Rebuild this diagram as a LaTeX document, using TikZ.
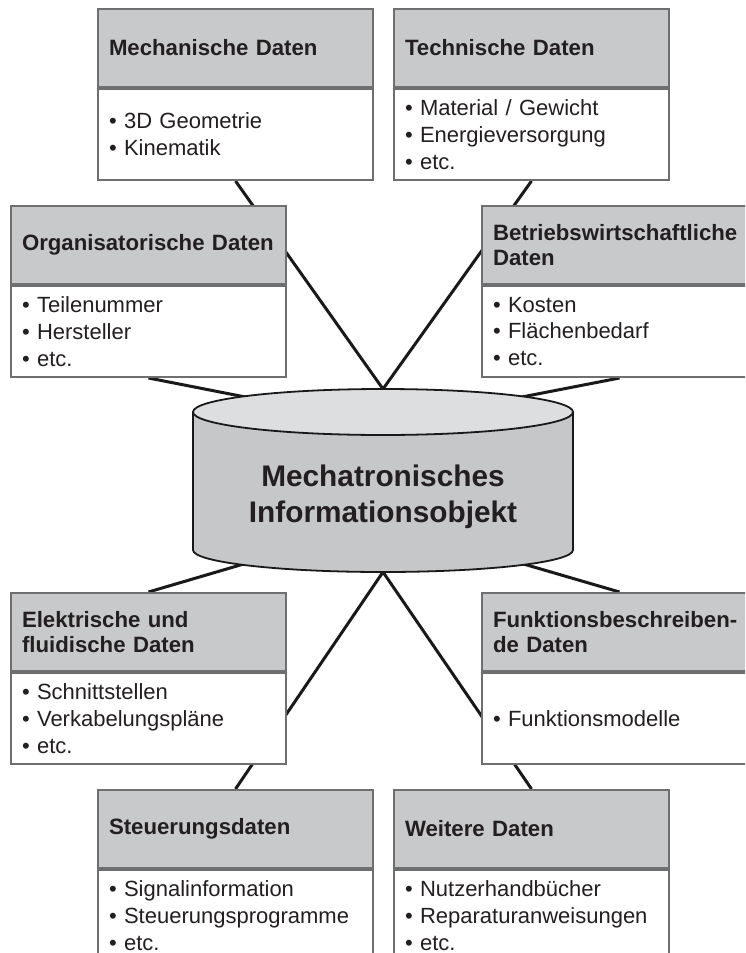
\documentclass[tikz,border=0pt]{standalone}
\usepackage{fontspec}
\setmainfont{Liberation Sans}
\usetikzlibrary{backgrounds}
\definecolor{hdrcol}{RGB}{200,201,203}
\definecolor{bordercol}{RGB}{110,111,113}
\definecolor{cylside}{RGB}{198,199,201}
\definecolor{cyltop}{RGB}{221,222,224}
\definecolor{txtcol}{RGB}{35,31,32}
\tikzset{
  hdr/.style={draw=bordercol, line width=2pt, fill=hdrcol, minimum width=275pt,
    minimum height=78pt, text width=253pt, inner xsep=11pt, inner ysep=0pt, align=left,
    anchor=north west, text=txtcol, font=\fontsize{22.2}{25.5}\selectfont\bfseries},
  bodybox/.style={draw=bordercol, line width=2pt, fill=white, minimum width=275pt,
    minimum height=91pt, text width=253pt, inner xsep=11pt, inner ysep=0pt, align=left,
    anchor=north, text=txtcol, font=\fontsize{22}{26.8}\selectfont},
  conn/.style={draw=black!90, line width=3pt},
}
\begin{document}
\begin{tikzpicture}[x=1pt,y=-1pt]
\useasboundingbox (0,0) rectangle (745,953);
\clip (0,0) rectangle (745,953);
% boxes
\node[hdr] (mechH) at (97,8) {Mechanische Daten};
\node[bodybox] (mechB) at (mechH.south) {• 3D Geometrie\\• Kinematik};
\node[hdr] (techH) at (393,8) {Technische Daten};
\node[bodybox] (techB) at (techH.south) {• Material / Gewicht\\• Energieversorgung\\• etc.};
\node[hdr] (orgH) at (10,205) {Organisatorische Daten};
\node[bodybox] (orgB) at (orgH.south) {• Teilenummer\\• Hersteller\\• etc.};
\node[hdr] (betrH) at (481,205) {Betriebswirtschaftliche\\Daten};
\node[bodybox] (betrB) at (betrH.south) {• Kosten\\• Flächenbedarf\\• etc.};
\node[hdr] (elekH) at (10,592) {Elektrische und\\fluidische Daten};
\node[bodybox] (elekB) at (elekH.south) {• Schnittstellen\\• Verkabelungspläne\\• etc.};
\node[hdr] (funkH) at (481,592) {Funktionsbeschreiben-\\de Daten};
\node[bodybox] (funkB) at (funkH.south) {• Funktionsmodelle};
\node[hdr] (steuH) at (97,789) {Steuerungsdaten};
\node[bodybox] (steuB) at (steuH.south) {• Signalinformation\\• Steuerungsprogramme\\• etc.};
\node[hdr] (weitH) at (393,789) {Weitere Daten};
\node[bodybox] (weitB) at (weitH.south) {• Nutzerhandbücher\\• Reparaturanweisungen\\• etc.};
% cylinder
\path[draw=black!90, line width=1.8pt, fill=cylside] (193,412) -- (193,550)
  arc[start angle=180, end angle=360, x radius=190pt, y radius=22pt] -- (573,412) -- cycle;
\draw[draw=black!90, line width=1.8pt, fill=cyltop] (383,412) ellipse [x radius=190pt, y radius=23pt];
\node[font=\fontsize{29.8}{35.5}\selectfont\bfseries, align=center, text=txtcol] (mio) at (383,497)
  {Mechatronisches\\Informationsobjekt};
\coordinate (ctop) at (383,389);
\coordinate (cbot) at (383,572);
\coordinate (cup) at (383,424);
\coordinate (clow) at (383,523);
% connectors
\begin{pgfonlayer}{background}
\draw[conn] (mechB.south) -- (ctop);
\draw[conn] (techB.south) -- (ctop);
\draw[conn] (orgB.south) -- (cup);
\draw[conn] (betrB.south) -- (cup);
\draw[conn] (elekH.north) -- (clow);
\draw[conn] (funkH.north) -- (clow);
\draw[conn] (steuH.north) -- (cbot);
\draw[conn] (weitH.north) -- (cbot);
\end{pgfonlayer}
\end{tikzpicture}
\end{document}
